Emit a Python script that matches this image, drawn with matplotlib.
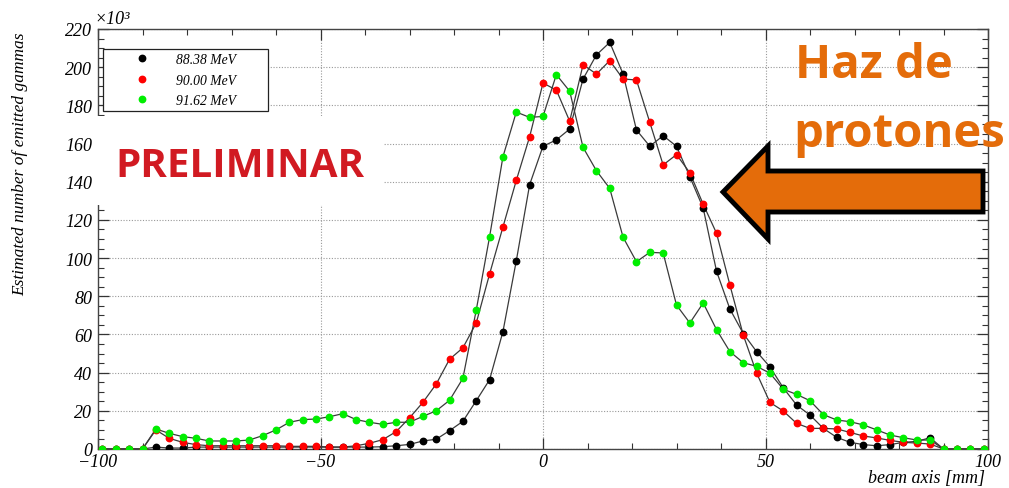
import numpy as np
import matplotlib
matplotlib.use("Agg")
import matplotlib.pyplot as plt
from matplotlib.lines import Line2D
from matplotlib.patches import Polygon, Rectangle
from matplotlib.ticker import MultipleLocator

# bin centres along the beam axis [mm]
beam_x = np.arange(-99, 100, 3)

labels = ["88.38 MeV", "90.00 MeV", "91.62 MeV"]
colors = ["#000000", "#ff0000", "#00ee00"]

# estimated number of emitted gammas (x10^3)
e8838 = [0, 0, 0, 0, 1, 0.5, 0.5, 1, 1, 1, 1, 1, 1, 1, 1, 1, 1, 1, 1, 1, 1,
         1.2, 1.7, 2.4, 4.2, 5.1, 9.6, 14.5, 25.3, 36.3, 61.5, 98.6, 138.5,
         158.6, 161.9, 167.6, 193.8, 206.4, 213, 196.4, 167.1, 158.6, 164.1,
         158.6, 142.6, 126.2, 93.1, 73.3, 60.5, 51, 43, 32, 23, 17.8, 10.8,
         6.1, 3.5, 2.3, 1.7, 2.3, 3.5, 4, 5.9, 0, 0, 0, 0]
e9000 = [0, 0, 0, 0, 10, 5.6, 3.5, 2.3, 1.7, 1.7, 1.7, 1.7, 1.7, 1.7, 1.4,
         1.4, 1.4, 1, 1, 1.7, 3, 4.9, 9.1, 16.3, 24.4, 34, 47, 53, 66, 91.7,
         116.3, 140.7, 163.6, 191.7, 188, 171.7, 201.3, 196.4, 203.4, 193.8,
         193.3, 171.1, 148.8, 154.2, 144.7, 128.2, 113, 85.9, 59.7, 39.8,
         24.4, 19.9, 13.4, 10.8, 10.8, 10.5, 8.7, 6.8, 5.8, 4.5, 3.5, 3.1,
         2.6, 0, 0, 0, 0]
e9162 = [0, 0, 0, 0, 10.5, 8.2, 6.5, 5.6, 4.2, 4.2, 4.2, 4.7, 7, 10, 14,
         15.4, 15.7, 16.9, 18.5, 15.4, 14, 12.9, 14, 14, 17.1, 20, 25.5, 37,
         72.8, 111.2, 153.1, 176.5, 173.7, 174.2, 196.1, 187.4, 158, 145.8,
         136.5, 110.9, 98.1, 103, 102.7, 75.4, 66, 76.5, 62.5, 51, 45.2, 43.3,
         39.7, 31.3, 28.6, 25.3, 18, 15.2, 14.3, 12.6, 10, 7.3, 5.9, 4.7, 4.7,
         0, 0, 0, 0]
series = [e8838, e9000, e9162]

W, H = 1009, 489
fig = plt.figure(figsize=(W / 100, H / 100), dpi=100)
ax = fig.add_axes([98 / W, 1 - 450 / H, 890 / W, 420 / H])

serif = ["Liberation Serif", "DejaVu Serif"]

for vals, c, lab in zip(series, colors, labels):
    ax.plot(beam_x, vals, color="#3a3a3a", lw=0.9, zorder=2)
    ax.plot(beam_x, vals, ls="none", marker="o", ms=4.6, mfc=c, mec=c,
            zorder=3, label=lab)

ax.set_xlim(-100, 100)
ax.set_ylim(0, 220)
ax.xaxis.set_major_locator(MultipleLocator(50))
ax.xaxis.set_minor_locator(MultipleLocator(10))
ax.yaxis.set_major_locator(MultipleLocator(20))
ax.yaxis.set_minor_locator(MultipleLocator(5))
ax.tick_params(which="both", direction="in", top=True, right=True,
               color="#333333")
ax.tick_params(which="major", length=8, width=0.9)
ax.tick_params(which="minor", length=4, width=0.8)
ax.grid(True, which="major", color="#999999", lw=0.8, ls=(0, (1, 1.5)))
for s in ax.spines.values():
    s.set_color("#444444")
    s.set_linewidth(1.0)

for t in ax.get_xticklabels() + ax.get_yticklabels():
    t.set_family(serif)
    t.set_style("italic")
    t.set_fontsize(13)
ax.tick_params(axis="x", pad=3)
ax.tick_params(axis="y", pad=4)

ax.set_ylabel("Estimated number of emitted gammas", family=serif,
              style="italic", fontsize=12.5)
ax.yaxis.set_label_coords(-0.078, 0.68)
ax.set_xlabel("beam axis [mm]", family=serif, style="italic", fontsize=13,
              ha="right", va="center")
ax.xaxis.set_label_coords(0.997, -0.067)

fig.text(94 / W, 1 - 24 / H, "×10³", family=serif, style="italic",
         fontsize=13, ha="left", va="baseline")

handles = [Line2D([], [], ls="none", marker="o", ms=4.6, mfc=c, mec=c)
           for c in colors]
leg = ax.legend(handles, labels, loc="upper left",
                bbox_to_anchor=(5 / 890, 1 - 50 / 420 + 30 / 420,
                                165 / 890, 0.0),
                mode="expand", borderaxespad=0, frameon=True, fancybox=False,
                edgecolor="#222222", framealpha=1, handlelength=5.2,
                handletextpad=-0.1, labelspacing=0.55, borderpad=0.3,
                prop={"family": serif, "style": "italic", "size": 9.8})
leg.get_frame().set_linewidth(0.9)
leg.set_zorder(6)

# white box behind the PRELIMINAR stamp
fig.add_artist(Rectangle((96 / W, 1 - 206 / H), 287 / W, 89 / H,
                         transform=fig.transFigure, facecolor="white",
                         edgecolor="none", zorder=5))
fig.text(115 / W, 1 - 177 / H, "PRELIMINAR", color="#d11a22",
         family="Open Sans", weight="bold", fontsize=29, va="baseline",
         zorder=6)

orange = "#e46c0a"
fig.text(795 / W, 1 - 78 / H, "Haz de", color=orange, family="Open Sans",
         weight="bold", fontsize=34, va="baseline", zorder=6)
fig.text(793 / W, 1 - 147 / H, "protones", color=orange, family="Open Sans",
         weight="bold", fontsize=34, va="baseline", zorder=6)

arrow_px = [(723, 193), (768, 147), (768, 172), (983, 172), (983, 213),
            (768, 213), (768, 240)]
arrow = Polygon([(px / W, 1 - py / H) for px, py in arrow_px], closed=True,
                transform=fig.transFigure, facecolor=orange,
                edgecolor="black", lw=3.5, joinstyle="miter", zorder=6)
fig.add_artist(arrow)

fig.savefig("out.png", dpi=100)
